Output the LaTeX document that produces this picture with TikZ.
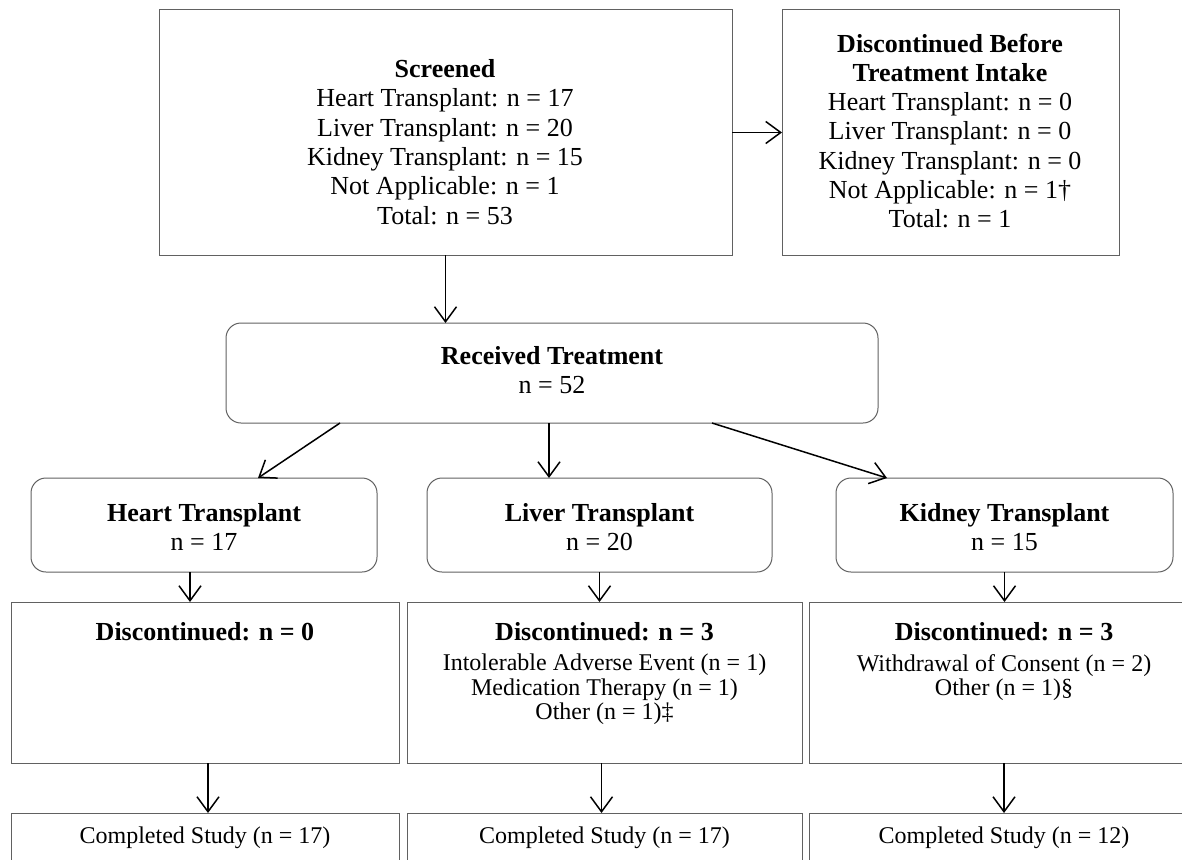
\documentclass[tikz,border=0pt]{standalone}
\usepackage{fontspec}
\setmainfont{Liberation Serif}
\usetikzlibrary{arrows.meta}
\begin{document}
\begin{tikzpicture}[x=1pt,y=-1pt,
  box/.style={draw=black!62, line width=1pt, inner sep=0pt, outer sep=0pt, anchor=north west},
  rbox/.style={box, rounded corners=15pt},
  arr/.style={line width=1.5pt, -{Straight Barb[length=15pt,width=22pt,line width=1.5pt]}},
  big/.style={font=\fontsize{26}{29.3}\selectfont, align=center, inner sep=0pt},
  small/.style={font=\fontsize{24}{24.5}\selectfont, align=center, inner sep=0pt},
]
\useasboundingbox (0,0) rectangle (1182,859);
\clip (0,0) rectangle (1182,859);

% boxes
\node[box, minimum width=573pt, minimum height=245pt] (scr) at (159,10) {};
\node[box, minimum width=337pt, minimum height=245pt] (dbt) at (782,10) {};
\node[rbox, minimum width=652pt, minimum height=100pt] (rec) at (226,323) {};
\node[rbox, minimum width=346pt, minimum height=94pt] (ht) at (31,478) {};
\node[rbox, minimum width=345pt, minimum height=94pt] (lt) at (427,478) {};
\node[rbox, minimum width=337pt, minimum height=94pt] (kt) at (836,478) {};
\node[box, minimum width=388pt, minimum height=161pt] (hd) at (11,602) {};
\node[box, minimum width=395pt, minimum height=161pt] (ld) at (407,602) {};
\node[box, minimum width=390pt, minimum height=161pt] (kd) at (809,602) {};
\node[box, minimum width=388pt, minimum height=100pt] (hc) at (11,813) {};
\node[box, minimum width=395pt, minimum height=100pt] (lc) at (407,813) {};
\node[box, minimum width=390pt, minimum height=100pt] (kc) at (809,813) {};

% texts
\node[big] (scrT) at (445,142) {\textbf{Screened}\\Heart Transplant: n = 17\\Liver Transplant: n = 20\\Kidney Transplant: n = 15\\Not Applicable: n = 1\\Total: n = 53};
\node[big] (dbtT) at (950,131) {\textbf{Discontinued Before}\\\textbf{Treatment Intake}\\Heart Transplant: n = 0\\Liver Transplant: n = 0\\Kidney Transplant: n = 0\\Not Applicable: n = 1†\\Total: n = 1};
\node[big] (recT) at (552,370) {\textbf{Received Treatment}\\n = 52};
\node[big] (htT) at (204,527) {\textbf{Heart Transplant}\\n = 17};
\node[big] (ltT) at (599.5,527) {\textbf{Liver Transplant}\\n = 20};
\node[big] (ktT) at (1004.5,527) {\textbf{Kidney Transplant}\\n = 15};
\node[big, anchor=base] (hdT) at (205,640) {\textbf{Discontinued: n = 0}};
\node[big, anchor=base] (ldT) at (604.5,640) {\textbf{Discontinued: n = 3}};
\node[big, anchor=base] (kdT) at (1004,640) {\textbf{Discontinued: n = 3}};
\node[small, anchor=north] (ldL) at (604.5,654) {Intolerable Adverse Event (n = 1)\\Medication Therapy (n = 1)\\Other (n = 1)‡};
\node[small, anchor=north] (kdL) at (1004,654) {Withdrawal of Consent (n = 2)\\Other (n = 1)§};
\node[small] (hcT) at (205,838) {Completed Study (n = 17)};
\node[small] (lcT) at (604.5,838) {Completed Study (n = 17)};
\node[small] (kcT) at (1004,838) {Completed Study (n = 12)};

% connectors
\draw[arr] (scr.east) -- (dbt.west);
\draw[arr] (scr.south) -- (scr.south |- rec.north);
\draw[arr] ([xshift=-212pt]rec.south) -- ([xshift=54pt]ht.north);
\draw[arr] ([xshift=-3pt]rec.south) -- ([xshift=-3pt]rec.south |- lt.north);
\draw[arr] ([xshift=160pt]rec.south) -- ([xshift=-117.5pt]kt.north);
\draw[arr] ([xshift=-14pt]ht.south) -- ([xshift=-14pt]ht.south |- hd.north);
\draw[arr] (lt.south) -- (lt.south |- ld.north);
\draw[arr] (kt.south) -- (kt.south |- kd.north);
\draw[arr] ([xshift=3pt]hd.south) -- ([xshift=3pt]hd.south |- hc.north);
\draw[arr] ([xshift=-3pt]ld.south) -- ([xshift=-3pt]ld.south |- lc.north);
\draw[arr] (kd.south) -- (kd.south |- kc.north);
\end{tikzpicture}
\end{document}
